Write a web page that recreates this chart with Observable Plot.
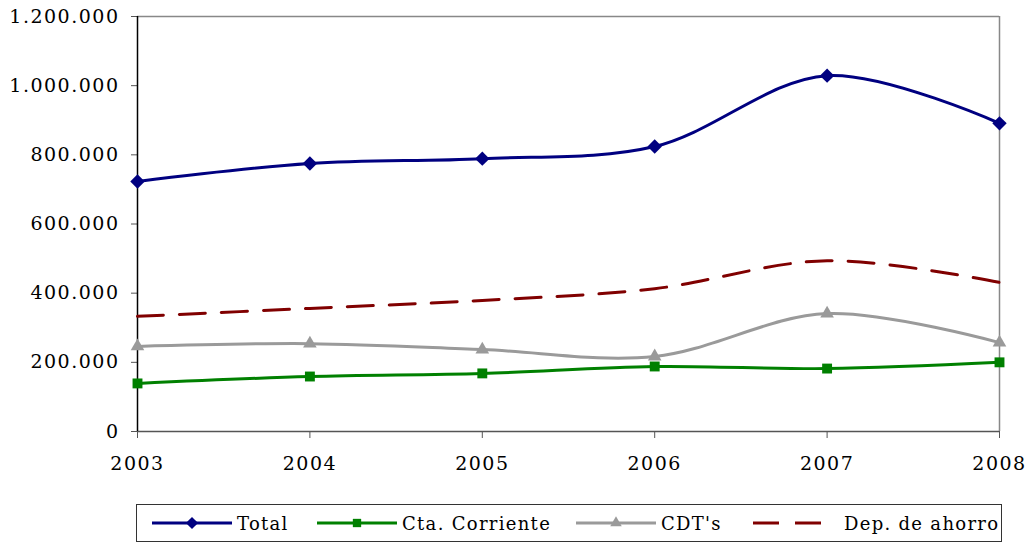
<!DOCTYPE html>
<html><head><meta charset="utf-8">
<script src="https://cdn.jsdelivr.net/npm/d3@7"></script>
<script src="https://cdn.jsdelivr.net/npm/@observablehq/plot@0.6"></script>
<style>
body{margin:0;background:#fff;font-family:"DejaVu Serif",serif;}
#legend{position:absolute;left:136px;top:504px;width:866px;height:38px;border:1px solid #333;box-sizing:border-box;}
#legend .item{position:absolute;top:0;height:36px;display:flex;align-items:center;font-size:18px;letter-spacing:1.3px;color:#000;}
#legend svg{margin-right:3px}
</style></head><body>
<div id="chart"></div>
<div id="legend"></div>
<script>
const years = [2003, 2004, 2005, 2006, 2007, 2008];
const total = [723000, 775000, 789000, 824000, 1029000, 891000];
const ctaCorriente = [139000, 159000, 168000, 188000, 182000, 200000];
const cdts = [246000, 254000, 237000, 217000, 341000, 257000];
const depAhorro = [333000, 356000, 379000, 413000, 494000, 431000];
const seriesNames = ["Total", "Cta. Corriente", "CDT's", "Dep. de ahorro"];
const yTicks = [0, 200000, 400000, 600000, 800000, 1000000, 1200000];

const colors = {"Total":"#000080","Cta. Corriente":"#008000","CDT's":"#9a9a9a","Dep. de ahorro":"#800000"};
const symbols = {"Total":"diamond2","Cta. Corriente":"square2","CDT's":"triangle2","Dep. de ahorro":null};
const radii = {"Total":6.5,"Cta. Corriente":6.3,"CDT's":6.5};
const allValues = [total, ctaCorriente, cdts, depAhorro];
const data = seriesNames.flatMap((s, i) => years.map((y, j) => ({series: s, year: y, value: allValues[i][j]})));

const loc = d3.formatLocale({decimal: ",", thousands: ".", grouping: [3], currency: ["$", ""]});
const fmt = loc.format(",d");

const marks = [
  Plot.ruleX([2008], {stroke: "#888", strokeWidth: 1.5}),
  Plot.ruleY([1200000], {stroke: "#888", strokeWidth: 1.5}),
  Plot.axisY({ticks: yTicks, tickFormat: fmt, tickSize: 6, tickPadding: 12, stroke: "#555", fontSize: 19, label: null}),
  Plot.axisX({ticks: years, tickFormat: d => String(d), tickSize: 7, tickPadding: 18, stroke: "#555", fontSize: 19, label: null}),
  Plot.ruleY([0], {stroke: "#555", strokeWidth: 1.5}),
  Plot.ruleX([2003], {stroke: "#000", strokeWidth: 1.5}),
];
for (const s of seriesNames) {
  const d = data.filter(r => r.series === s);
  marks.push(Plot.line(d, {x: "year", y: "value", stroke: colors[s], strokeWidth: 3, curve: "catmull-rom",
    strokeDasharray: s === "Dep. de ahorro" ? "26,16" : null}));
  if (symbols[s]) {
    marks.push(Plot.dot(d, {x: "year", y: "value", fill: colors[s], stroke: "none", symbol: symbols[s], r: radii[s]}));
  }
}

const chart = Plot.plot({
  width: 1029, height: 490,
  marginLeft: 137, marginRight: 30, marginTop: 16, marginBottom: 59,
  style: {fontFamily: "DejaVu Serif, serif", fontSize: "19px", color: "#000", letterSpacing: "1.5px", background: "#fff"},
  x: {domain: [2003, 2008]},
  y: {domain: [0, 1200000]},
  marks
});
document.getElementById("chart").appendChild(chart);

// legend
const legendPos = [13, 178, 437, 614];
const lg = document.getElementById("legend");
seriesNames.forEach((s, i) => {
  const item = document.createElement("div");
  item.className = "item";
  item.style.left = legendPos[i] + "px";
  const ns = "http://www.w3.org/2000/svg";
  const sv = document.createElementNS(ns, "svg");
  sv.setAttribute("width", 84); sv.setAttribute("height", 16);
  const ln = document.createElementNS(ns, "line");
  ln.setAttribute("x1", 2); ln.setAttribute("x2", 82); ln.setAttribute("y1", 8); ln.setAttribute("y2", 8);
  ln.setAttribute("stroke", colors[s]); ln.setAttribute("stroke-width", 3);
  if (s === "Dep. de ahorro") { ln.setAttribute("stroke-dasharray", "26,16"); ln.setAttribute("x2", 70); }
  sv.appendChild(ln);
  const sym = symbols[s];
  if (sym) {
    const p = document.createElementNS(ns, "path");
    const symObj = {diamond2: d3.symbolDiamond2, square2: d3.symbolSquare2, triangle2: d3.symbolTriangle2}[sym];
    const r = radii[s] - 1;
    p.setAttribute("d", d3.symbol(symObj, Math.PI * r * r)());
    p.setAttribute("transform", "translate(42,8)");
    p.setAttribute("fill", colors[s]);
    sv.appendChild(p);
  }
  item.appendChild(sv);
  const t = document.createElement("span");
  t.textContent = s;
  if (s === "Dep. de ahorro") t.style.marginLeft = "6px";
  item.appendChild(t);
  lg.appendChild(item);
});
</script>
</body></html>
